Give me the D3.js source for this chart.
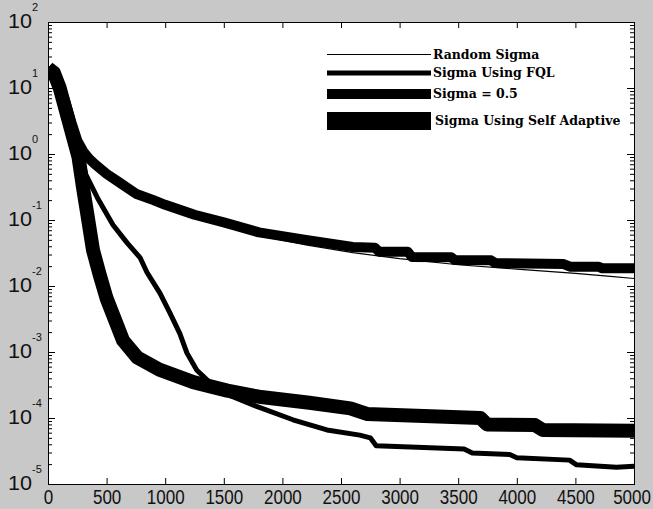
<!DOCTYPE html>
<html>
<head>
<meta charset="utf-8">
<script src="https://cdn.jsdelivr.net/npm/d3@7"></script>
<style>
    body { margin: 0; background: #c8c8c8; }
    .tick_label { font-family: "Liberation Sans", Arial, sans-serif; fill: #111; }
    .legend_text { font-family: "DejaVu Serif", serif; font-weight: bold; font-size: 12.5px; fill: #000; }
</style>
</head>
<body>
<div id="main_view_panel"></div>
<script>

// series (iteration, error)
const legend_names = ['Random Sigma', 'Sigma Using FQL', 'Sigma = 0.5', 'Sigma Using Self Adaptive'];

const random_iter = [0, 100, 200, 250, 300, 400, 500, 700, 1000, 1250, 1500, 1800, 2200, 2600, 3000, 3500, 4000, 4500, 4800, 5000];
const random_err = [20, 11, 3, 1.5, 1.0, 0.65, 0.46, 0.26, 0.16, 0.11, 0.085, 0.058, 0.042, 0.032, 0.026, 0.021, 0.018, 0.0155, 0.0140, 0.0130];

const fql_iter = [0, 50, 100, 150, 200, 250, 290, 320, 420, 555, 675, 785, 845, 955, 1040, 1125, 1185, 1270, 1400, 1550, 1780, 2090, 2380, 2660, 2750, 2800, 3550, 3620, 3940, 4000, 4450, 4510, 4850, 5000];
const fql_err = [20, 17, 11, 6, 3, 1.5, 0.9, 0.5, 0.22, 0.084, 0.045, 0.027, 0.016, 0.0078, 0.0039, 0.0019, 9.7e-4, 5.3e-4, 3.2e-4, 2.2e-4, 1.5e-4, 9.4e-5, 6.6e-5, 5.5e-5, 5.0e-5, 3.8e-5, 3.4e-5, 2.95e-5, 2.8e-5, 2.5e-5, 2.3e-5, 1.95e-5, 1.8e-5, 1.85e-5];

const half_iter = [0, 50, 100, 150, 200, 250, 300, 350, 400, 500, 600, 750, 900, 1000, 1250, 1500, 1800, 2200, 2600, 2790, 2825, 3070, 3105, 3440, 3470, 3780, 3815, 4400, 4460, 4700, 4730, 5000];
const half_err = [20, 17, 11, 6, 3, 1.6, 1.1, 0.85, 0.7, 0.5, 0.38, 0.25, 0.2, 0.17, 0.12, 0.092, 0.065, 0.05, 0.039, 0.038, 0.033, 0.033, 0.0275, 0.0272, 0.0248, 0.0245, 0.0223, 0.0215, 0.0195, 0.0195, 0.0185, 0.0185];

const self_iter = [0, 50, 100, 180, 260, 300, 333, 384, 440, 500, 640, 760, 950, 1240, 1530, 1800, 2230, 2580, 2720, 3690, 3745, 4155, 4220, 5000];
const self_err = [20, 17, 10, 3, 0.9, 0.3, 0.13, 0.035, 0.015, 0.0065, 0.0015, 8.3e-4, 5.4e-4, 3.5e-4, 2.6e-4, 2.1e-4, 1.7e-4, 1.4e-4, 1.15e-4, 1.0e-4, 8.0e-5, 7.8e-5, 6.6e-5, 6.4e-5];

const x_ticks = [0, 500, 1000, 1500, 2000, 2500, 3000, 3500, 4000, 4500, 5000];
const y_exponents = [2, 1, 0, -1, -2, -3, -4, -5];

let width = 653, height = 509;
let margin = { 'left': 48, 'right': 19, 'top': 22, 'bottom': 25 };

let svg = d3.select('#main_view_panel')
    .append('svg')
    .attr('width', width)
    .attr('height', height);

let x_axis = d3.scaleLinear().domain([0, 5000]).range([margin.left, width - margin.right]);
let y_axis = d3.scaleLog().domain([1e-5, 1e2]).range([height - margin.bottom, margin.top]);

//plot area
svg.append('rect')
    .attr('x', x_axis(0)).attr('y', y_axis(1e2))
    .attr('width', x_axis(5000) - x_axis(0))
    .attr('height', y_axis(1e-5) - y_axis(1e2))
    .style('fill', 'white');

svg.append('clipPath').attr('id', 'plot_clip')
    .append('rect')
    .attr('x', x_axis(0)).attr('y', y_axis(1e2))
    .attr('width', x_axis(5000) - x_axis(0))
    .attr('height', y_axis(1e-5) - y_axis(1e2));

//draw curves
let line = d3.line()
    .x((d) => x_axis(d[0]))
    .y((d) => y_axis(d[1]));

let curves = [
    [self_iter, self_err, 14],
    [half_iter, half_err, 10],
    [fql_iter, fql_err, 5],
    [random_iter, random_err, 1.2]
];

let plot = svg.append('g').attr('clip-path', 'url(#plot_clip)');
curves.forEach((c) => {
    plot.append('path')
        .attr('d', line(c[0].map((v, i) => [v, c[1][i]])))
        .style('fill', 'none')
        .style('stroke', 'black')
        .style('stroke-width', c[2])
        .style('stroke-linejoin', 'round');
});

//axes, ticks pointing inward
let minor_ticks = [];
y_exponents.slice(1).forEach((e) => {
    for (let m = 2; m <= 9; m++) minor_ticks.push(m * Math.pow(10, e));
});
let major_ticks = y_exponents.map((e) => Math.pow(10, e));

function strip(g) {
    g.select('.domain').remove();
    g.selectAll('line').style('stroke', 'black');
}

// narrow, tall digits like the matlab screen font
svg.append('g')
    .attr('transform', 'translate(0,' + y_axis(1e-5) + ')')
    .call(d3.axisBottom(x_axis).tickValues(x_ticks).tickSize(-6).tickPadding(5).tickFormat(d3.format('d')))
    .call(strip)
    .selectAll('text')
    .attr('class', 'tick_label')
    .style('font-size', '21px')
    .attr('dx', (d) => d == 5000 ? -3 : 0)
    .attr('transform', 'scale(0.81,1)');

svg.append('g')
    .attr('transform', 'translate(0,' + y_axis(1e2) + ')')
    .call(d3.axisTop(x_axis).tickValues(x_ticks).tickSize(-6).tickFormat(''))
    .call(strip);

[[d3.axisLeft, x_axis(0)], [d3.axisRight, x_axis(5000)]].forEach((a) => {
    svg.append('g')
        .attr('transform', 'translate(' + a[1] + ',0)')
        .call(a[0](y_axis).tickValues(major_ticks).tickSize(-7).tickFormat(''))
        .call(strip);
    svg.append('g')
        .attr('transform', 'translate(' + a[1] + ',0)')
        .call(a[0](y_axis).tickValues(minor_ticks).tickSize(-4).tickFormat(''))
        .call(strip);
});

//y labels 10^k
let y_labels = svg.append('g').selectAll('g')
    .data(y_exponents)
    .enter()
    .append('g')
    .attr('transform', (d) => 'translate(32,' + y_axis(Math.pow(10, d)) + ')');
y_labels.append('text')
    .attr('class', 'tick_label')
    .attr('y', 6)
    .attr('transform', 'scale(1.08,1)')
    .style('text-anchor', 'end')
    .style('font-size', '20px')
    .text('10');
y_labels.append('text')
    .attr('class', 'tick_label')
    .attr('y', -11)
    .style('font-size', '11px')
    .text((d) => d);

//box
svg.append('rect')
    .attr('x', x_axis(0) + 0.5).attr('y', y_axis(1e2) + 0.5)
    .attr('width', x_axis(5000) - x_axis(0))
    .attr('height', y_axis(1e-5) - y_axis(1e2))
    .style('fill', 'none')
    .style('stroke', 'black');

//legend
let legend_y = [54.5, 73, 94, 121];
let legend_w = [1, 5, 10, 18];
let legend = svg.append('g').selectAll('g')
    .data(legend_names)
    .enter()
    .append('g')
    .attr('transform', (d, i) => 'translate(0,' + legend_y[i] + ')');
legend.append('line')
    .attr('x1', 327).attr('x2', 431)
    .style('stroke', 'black')
    .style('stroke-width', (d, i) => legend_w[i]);
legend.append('text')
    .attr('class', 'legend_text')
    .attr('x', (d, i) => i == 3 ? 435 : 433)
    .attr('y', 4)
    .text((d) => d);

</script>
</body>
</html>
